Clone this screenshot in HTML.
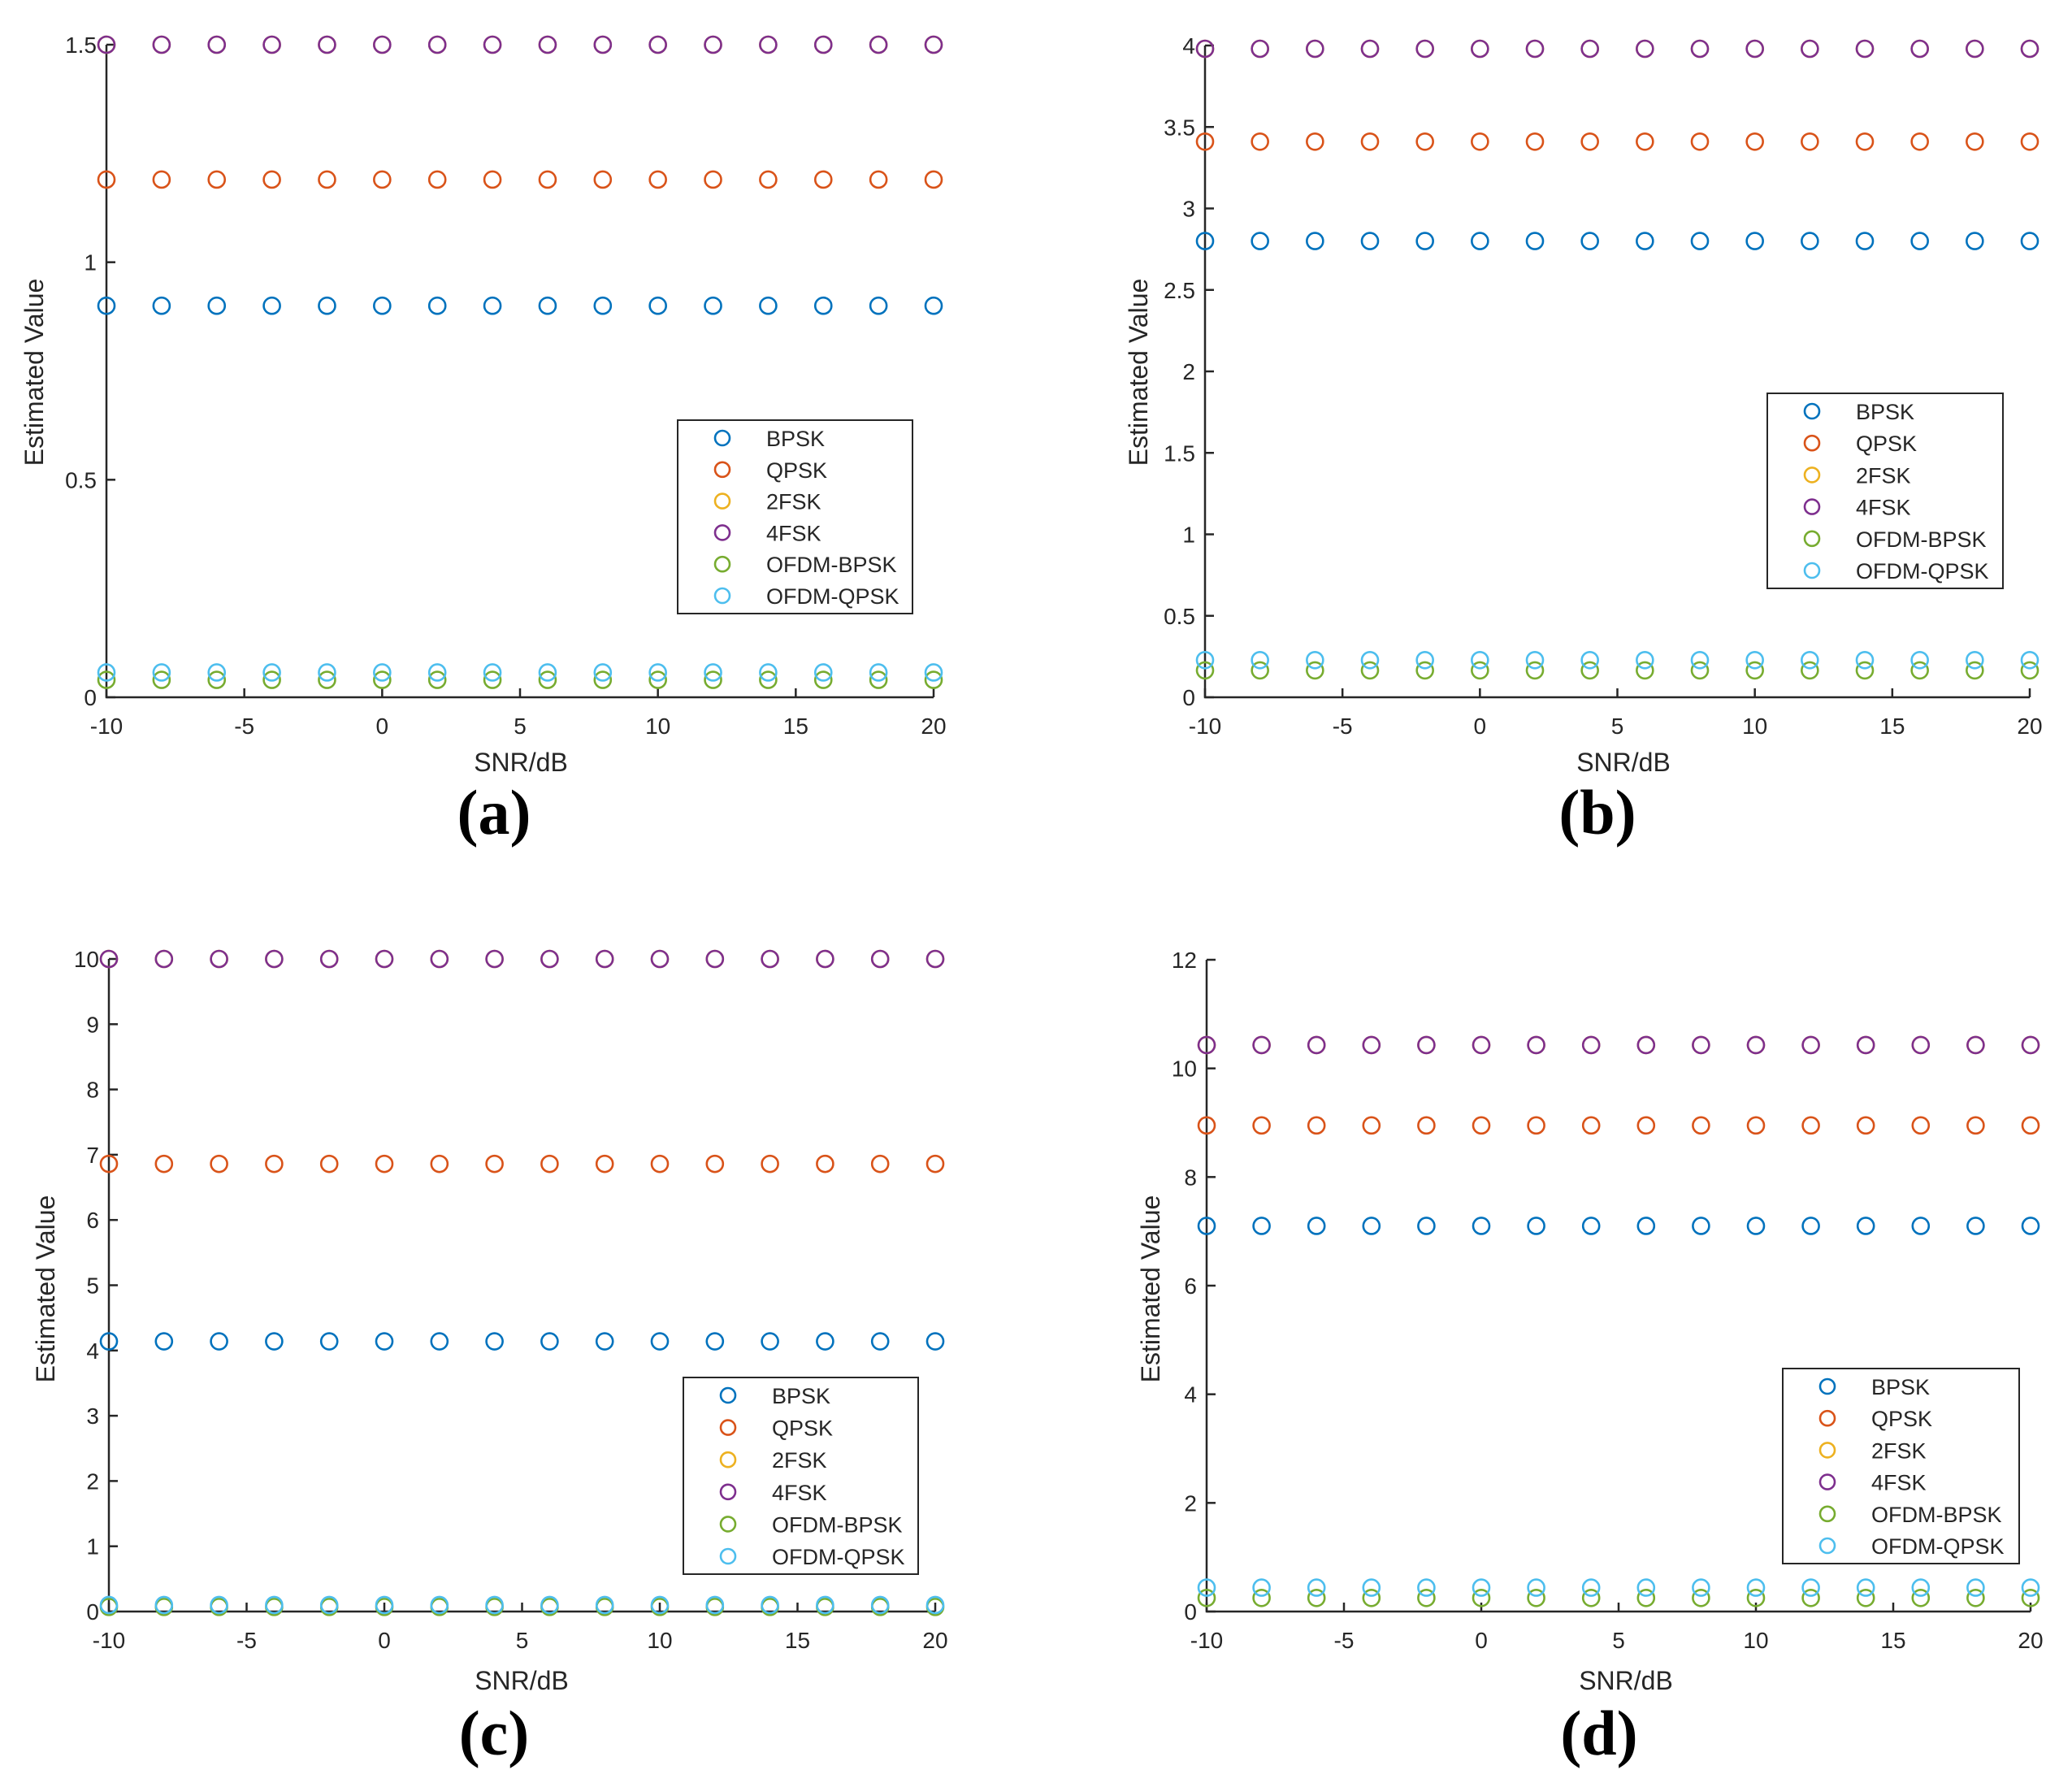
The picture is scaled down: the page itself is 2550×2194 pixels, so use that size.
<!DOCTYPE html>
<html><head><meta charset="utf-8"><style>
html,body{margin:0;padding:0;background:#fff;}
svg{display:block;}
text{font-family:"Liberation Sans",sans-serif;fill:#262626;}
</style></head><body>
<svg id="fig" width="2550" height="2194" viewBox="0 0 2550 2194" xmlns="http://www.w3.org/2000/svg"></svg>
<script>
const snr = [-10,-8,-6,-4,-2,0,2,4,6,8,10,12,14,16,18,20];
const seriesNames = ["BPSK","QPSK","2FSK","4FSK","OFDM-BPSK","OFDM-QPSK"];
const xTicks = [-10,-5,0,5,10,15,20];
// per-panel constant levels per series
const levelsA = [0.9, 1.19, 1.5, 1.5, 0.04, 0.057];
const levelsB = [2.8, 3.41, 3.98, 3.98, 0.165, 0.228];
const levelsC = [4.14, 6.86, 10.0, 10.0, 0.07, 0.1];
const levelsD = [7.1, 8.95, 10.43, 10.43, 0.25, 0.44];
const yTicksA = [0,0.5,1,1.5];
const yTicksB = [0,0.5,1,1.5,2,2.5,3,3.5,4];
const yTicksC = [0,1,2,3,4,5,6,7,8,9,10];
const yTicksD = [0,2,4,6,8,10,12];
const colors = ["#0072BD","#D95319","#EDB120","#7E2F8E","#77AC30","#4DBEEE"];

const NS="http://www.w3.org/2000/svg";
const svg=document.getElementById('fig');
function mk(tag,attrs,parent){const e=document.createElementNS(NS,tag);for(const k in attrs)e.setAttribute(k,attrs[k]);(parent||svg).appendChild(e);return e;}

const panels=[
 {id:'a',levels:levelsA,yTicks:yTicksA,ymax:1.5,x0:131,x1:1149,y0:858,y1:55,leg:[834,517,289,238],yl:[42,458],xl:[641,938],cap:[608,1000]},
 {id:'b',levels:levelsB,yTicks:yTicksB,ymax:4,x0:1483,x1:2498,y0:858,y1:56,leg:[2175,484,290,240],yl:[1401,458],xl:[1998,938],cap:[1966,1000]},
 {id:'c',levels:levelsC,yTicks:yTicksC,ymax:10,x0:134,x1:1151,y0:1983,y1:1180,leg:[841,1695,289,242],yl:[56,1586],xl:[642,2068],cap:[608,2133]},
 {id:'d',levels:levelsD,yTicks:yTicksD,ymax:12,x0:1485,x1:2499,y0:1983,y1:1181,leg:[2194,1684,291,240],yl:[1416,1586],xl:[2001,2068],cap:[1968,2133]}
];

panels.forEach(p=>{
 const g=mk('g',{});
 
 
 const sx=v=>p.x0+(v-(-10))/(30)*(p.x1-p.x0);
 const sy=v=>p.y0-(v/p.ymax)*(p.y0-p.y1);
 const ax=mk('path',{d:`M${p.x0} ${p.y1} V${p.y0} H${p.x1}`,fill:'none',stroke:'#262626','stroke-width':2.5},g);
 
 
 xTicks.forEach(t=>{
  const x=sx(t);
  mk('line',{x1:x,x2:x,y1:p.y0,y2:p.y0-11,stroke:'#262626','stroke-width':2.5},g);
  const tl=mk('text',{x:x,y:p.y0+45,'font-size':28,'text-anchor':'middle'},g);
  tl.textContent=t;
  
  
 });
 p.yTicks.forEach(t=>{
  const y=sy(t);
  mk('line',{x1:p.x0,x2:p.x0+11,y1:y,y2:y,stroke:'#262626','stroke-width':2.5},g);
  const tl=mk('text',{x:p.x0-12,y:y+10,'font-size':28,'text-anchor':'end'},g);
  tl.textContent=t;
  
  
 });
 const yl=mk('text',{x:p.yl[0],y:p.yl[1],'font-size':32,'text-anchor':'middle',transform:`rotate(-90 ${p.yl[0]} ${p.yl[1]})`,dy:11},g);
 yl.textContent='Estimated Value';
 
 
 const xl=mk('text',{x:p.xl[0],y:p.xl[1]+11,'font-size':32,'text-anchor':'middle'},g);
 xl.textContent='SNR/dB';
 
 
 const cap=mk('text',{x:p.cap[0],y:p.cap[1]+26,'font-size':78,'font-weight':'bold','text-anchor':'middle',style:'font-family:"Liberation Serif",serif;fill:#000'},g);
 cap.textContent='('+p.id+')';
 
 
 seriesNames.forEach((n,si)=>{
  snr.forEach(s=>{
   const c=mk('circle',{cx:sx(s),cy:sy(p.levels[si]),r:10,fill:'none',stroke:colors[si],'stroke-width':2.6},g);
   
   
  });
 });
 const [lx,ly,lw,lh]=p.leg;
 const lg=mk('g',{},g);
 
 
 mk('rect',{x:lx,y:ly,width:lw,height:lh,fill:'#fff',stroke:'#262626','stroke-width':2},lg);
 const step=(lh-44)/5;
 seriesNames.forEach((n,si)=>{
  const ry=ly+22+si*step;
  mk('circle',{cx:lx+55,cy:ry,r:9,fill:'none',stroke:colors[si],'stroke-width':2.6},lg);
  const t=mk('text',{x:lx+109,y:ry+10,'font-size':27},lg);
  t.textContent=n;
  
  
 });
});
</script>
</body></html>
